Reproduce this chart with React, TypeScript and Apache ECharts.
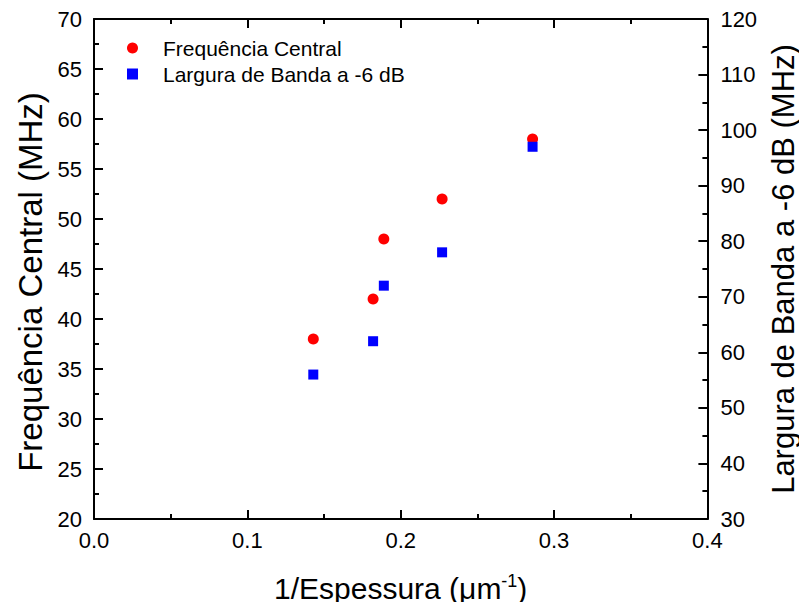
import React, { useEffect, useRef } from "react";
import * as echarts from "echarts";

const xValues = [0.143, 0.182, 0.189, 0.227, 0.286];
const centralFreq = [38, 42, 48, 52, 58];
const bandwidth = [56, 62, 72, 78, 97];
const seriesNames = ["Frequência Central", "Largura de Banda a -6 dB"];
const xTitle = "{a|1/Espessura (μm}{s|-1}{a|)}";
const yLeftTitle = "Frequência Central (MHz)";
const yRightTitle = "Largura de Banda a -6 dB (MHz)";

const FONT = "'Liberation Sans', Arial, sans-serif";

export default function App() {
  const ref = useRef<HTMLDivElement>(null);
  useEffect(() => {
    if (!ref.current) return;
    const chart = echarts.init(ref.current, undefined, { renderer: "svg" });
    const axisLine = { show: true, onZero: false, lineStyle: { color: "#000", width: 2 } };
    const tick = { show: true, inside: true, length: 9, lineStyle: { color: "#000", width: 2 } };
    const minor = { show: true, splitNumber: 2, length: 5, lineStyle: { color: "#000", width: 2 } };
    const label = { color: "#000", fontSize: 22, fontFamily: FONT };
    chart.setOption({
      animation: false,
      backgroundColor: "#fff",
      textStyle: { fontFamily: FONT },
      grid: { left: 94, right: 95, top: 19, bottom: 91, containLabel: false },
      legend: {
        left: 127,
        top: 37,
        orient: "vertical",
        padding: 0,
        itemWidth: 11,
        itemHeight: 11,
        itemGap: 4,
        textStyle: {
          color: "#000",
          fontSize: 21,
          fontFamily: FONT,
          lineHeight: 22,
          padding: [0, 0, 0, 20],
        },
        data: [
          { name: seriesNames[0], icon: "circle" },
          { name: seriesNames[1], icon: "rect" },
        ],
      },
      xAxis: [
        {
          type: "value",
          position: "bottom",
          min: 0,
          max: 0.4,
          interval: 0.1,
          axisLine,
          axisTick: tick,
          minorTick: minor,
          splitLine: { show: false },
          axisLabel: { ...label, margin: 10, formatter: (v: number) => v.toFixed(1) },
          name: xTitle,
          nameLocation: "middle",
          nameGap: 52,
          nameTextStyle: {
            rich: {
              a: { fontSize: 30, fontFamily: FONT, color: "#000", lineHeight: 34 },
              s: { fontSize: 18, fontFamily: FONT, color: "#000", lineHeight: 34, padding: [0, 0, 14, 0] },
            },
          },
        },
        {
          type: "value",
          position: "top",
          min: 0,
          max: 0.4,
          interval: 0.1,
          axisLine,
          axisTick: tick,
          minorTick: minor,
          splitLine: { show: false },
          axisLabel: { show: false },
        },
      ],
      yAxis: [
        {
          type: "value",
          position: "left",
          min: 20,
          max: 70,
          interval: 5,
          axisLine,
          axisTick: tick,
          minorTick: minor,
          splitLine: { show: false },
          axisLabel: { ...label, margin: 12 },
          name: yLeftTitle,
          nameLocation: "middle",
          nameGap: 47,
          nameTextStyle: { fontSize: 33, color: "#000", fontFamily: FONT, padding: [0, 26, 0, 0] },
        },
        {
          type: "value",
          position: "right",
          min: 30,
          max: 120,
          interval: 10,
          axisLine,
          axisTick: tick,
          minorTick: minor,
          splitLine: { show: false },
          axisLabel: { ...label, margin: 13 },
          name: yRightTitle,
          nameLocation: "middle",
          nameGap: 55,
          nameRotate: 90,
          nameTextStyle: { fontSize: 31, color: "#000", fontFamily: FONT },
        },
      ],
      series: [
        {
          name: seriesNames[0],
          type: "scatter",
          xAxisIndex: 0,
          yAxisIndex: 0,
          symbol: "circle",
          symbolSize: 11,
          itemStyle: { color: "#ff0000", opacity: 1 },
          data: xValues.map((x, i) => [x, centralFreq[i]]),
        },
        {
          name: seriesNames[1],
          type: "scatter",
          xAxisIndex: 0,
          yAxisIndex: 1,
          symbol: "rect",
          symbolSize: 10,
          itemStyle: { color: "#0000ff", opacity: 1 },
          data: xValues.map((x, i) => [x, bandwidth[i]]),
        },
      ],
    });
    return () => chart.dispose();
  }, []);
  return <div ref={ref} style={{ width: 807, height: 610, margin: -8 }} />;
}
